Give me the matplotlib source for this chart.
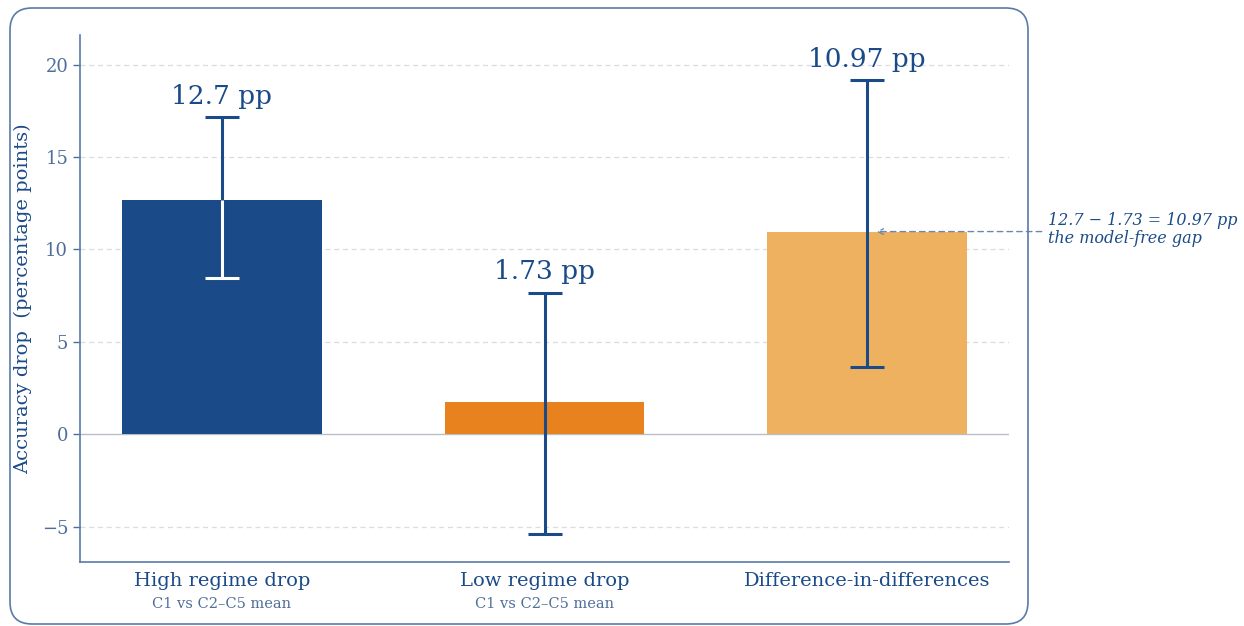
import matplotlib
matplotlib.use("Agg")
import matplotlib.pyplot as plt
from matplotlib.patches import FancyBboxPatch
from matplotlib.transforms import IdentityTransform

plt.rcParams['font.family'] = ['DejaVu Serif']

categories = ["High regime drop", "Low regime drop", "Difference-in-differences"]
subtitles = ["C1 vs C2\u2013C5 mean", "C1 vs C2\u2013C5 mean", ""]
values = [12.7, 1.73, 10.97]
ci_low = [8.48, -5.40, 3.62]
ci_high = [17.17, 7.67, 19.17]
labels = ["12.7 pp", "1.73 pp", "10.97 pp"]
bar_colors = ["#1a4a88", "#e8821e", "#eeb160"]

navy = "#1a4a88"
muted = "#4f6f9a"

W, H = 1244, 626
fig = plt.figure(figsize=(W / 100, H / 100), dpi=100)
ax = fig.add_axes([80 / W, 1 - 562 / H, (1009 - 80) / W, (562 - 35) / H])

# rounded frame (pixel coords)
frame = FancyBboxPatch((10, H - 624), 1028 - 10, 624 - 8,
                       boxstyle="round,pad=0,rounding_size=22",
                       transform=IdentityTransform(), fill=False,
                       edgecolor="#5a7aa8", linewidth=1.2)
fig.patches.append(frame)

x = list(range(len(values)))
ax.bar(x, values, width=0.62, color=bar_colors, zorder=2)
for i in x:
    ax.errorbar(i, values[i], yerr=[[values[i] - ci_low[i]], [ci_high[i] - values[i]]],
                fmt="none", ecolor=navy, elinewidth=2.2, capsize=12, capthick=2.2, zorder=3)
    ax.text(i, ci_high[i] + 0.45, labels[i], ha="center", va="bottom",
            fontsize=19, color=navy, zorder=4)

# inside the dark bar the interval is drawn in white
ax.vlines(0, ci_low[0], values[0], color="white", linewidth=2.2, zorder=3.5)
ax.plot([0], [ci_low[0]], marker="_", markersize=24, markeredgewidth=2.2,
        color="white", zorder=3.5)

ax.set_xlim(-0.44, 2.44)
ax.set_ylim(-6.9, 21.6)
ax.set_yticks([-5, 0, 5, 10, 15, 20])
ax.set_yticklabels(["\u22125", "0", "5", "10", "15", "20"])
for yv in [-5, 5, 10, 15, 20]:
    ax.axhline(yv, color="#d8dde5", linestyle=(0, (4, 3)), linewidth=0.9, zorder=0)
ax.axhline(0, color="#b9bec6", linewidth=1.0, zorder=1)

ax.set_xticks(x)
ax.set_xticklabels([])
ax.tick_params(axis="x", length=0)
ax.tick_params(axis="y", colors=muted, labelsize=13, length=5, width=1)
for i in x:
    ax.text(i, -7.45, categories[i], ha="center", va="top", fontsize=14, color=navy,
            clip_on=False)
    if subtitles[i]:
        ax.text(i, -8.8, subtitles[i], ha="center", va="top", fontsize=10.5, color=muted,
                clip_on=False)

ax.set_ylabel("Accuracy drop  (percentage points)", fontsize=14, color=navy, labelpad=7)

for s in ["top", "right"]:
    ax.spines[s].set_visible(False)
for s in ["left", "bottom"]:
    ax.spines[s].set_color("#5a7aa8")
    ax.spines[s].set_linewidth(1.2)

# annotation
ax.annotate("", xy=(2.02, values[2]), xytext=(2.55, values[2]),
            arrowprops=dict(arrowstyle="->", color="#6a88b0", linestyle=(0, (4, 3)), lw=1.0),
            annotation_clip=False, zorder=5)
ax.text(2.56, values[2] + 0.1, "12.7 \u2212 1.73 = 10.97 pp\nthe model-free gap",
        ha="left", va="center", fontsize=11.5, style="italic", color=navy,
        linespacing=1.05, clip_on=False)

fig.savefig("out.png", dpi=100)
